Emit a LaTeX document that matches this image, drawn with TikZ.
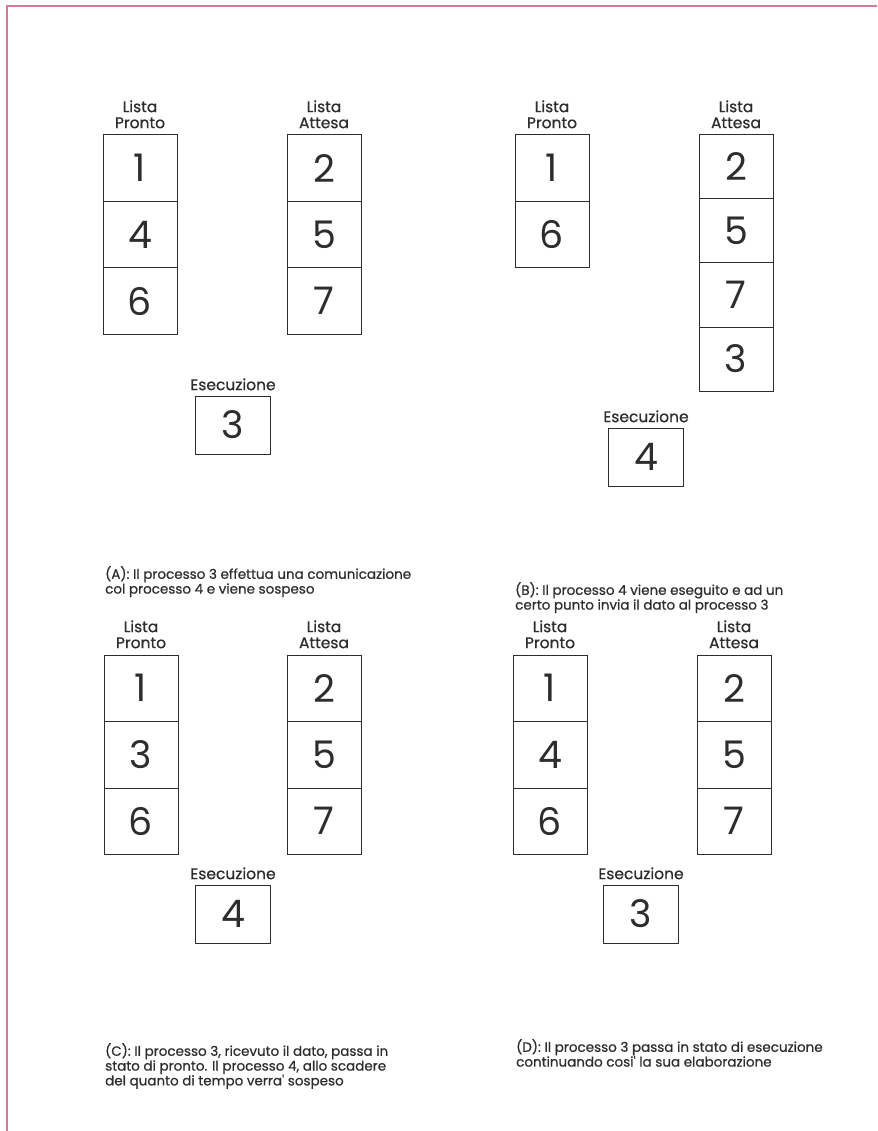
\documentclass[tikz,border=0pt]{standalone}
\usepackage{fontspec}
\setmainfont{Poppins}
\newfontfamily\testo{Poppins}[FakeBold=0.7]
\usetikzlibrary{positioning, math}
\definecolor{rosa}{RGB}{214,120,152}
\definecolor{inchiostro}{RGB}{45,45,45}

\tikzset{
  cella/.style={draw=inchiostro, line width=1pt, minimum width=74pt, minimum height=\h pt, inner sep=0pt, text=inchiostro, font=\fontsize{38}{38}\selectfont},
  esec/.style={cella, minimum width=75pt, minimum height=58pt},
  etich/.style={align=center, inner sep=0pt, text=inchiostro, font=\testo\fontsize{15.5}{16}\selectfont},
  didasc/.style={align=left, anchor=north west, inner sep=0pt, text=inchiostro, font=\testo\fontsize{13.5}{14.8}\selectfont},
}

\begin{document}
\begin{tikzpicture}[x=1pt,y=1pt]
\tikzmath{
\h=66.5;
\hb=64;
}
\useasboundingbox (0,0) rectangle (877,-1131);
\draw[rosa, line width=2pt] (7,-1131) -- (7,-6) -- (877,-6);

% (A)
\foreach \n [count=\i] in {1,4,6}
  \node[cella] (pA\i) at (140,{-135-\h*(\i-0.5)}) {\n};
\foreach \n [count=\i] in {2,5,7}
  \node[cella] (aA\i) at (324,{-135-\h*(\i-0.5)}) {\n};
\node[etich, above=6pt of pA1] (lpA) {Lista\\Pronto};
\node[etich, above=6pt of aA1] (laA) {Lista\\Attesa};
\node[esec] (eA) at (233,-425) {3};
\node[etich, above=5pt of eA] (leA) {Esecuzione};
\node[didasc] (cA) at (105,-566) {(A): Il processo 3 effettua una comunicazione\\col processo 4 e viene sospeso};

% (B)
\foreach \n [count=\i] in {1,6}
  \node[cella] (pB\i) at (552,{-135-\h*(\i-0.5)}) {\n};
\foreach \n [count=\i] in {2,5,7,3}
  \node[cella, minimum height=\hb pt] (aB\i) at (736,{-135-\hb*(\i-0.5)}) {\n};
\node[etich, above=6pt of pB1] (lpB) {Lista\\Pronto};
\node[etich, above=6pt of aB1] (laB) {Lista\\Attesa};
\node[esec] (eB) at (646,-457) {4};
\node[etich, above=5pt of eB] (leB) {Esecuzione};
\node[didasc] (cB) at (515,-582) {(B): Il processo 4 viene eseguito e ad un\\certo punto invia il dato al processo 3};

% (C)
\foreach \n [count=\i] in {1,3,6}
  \node[cella] (pC\i) at (141,{-655-\h*(\i-0.5)}) {\n};
\foreach \n [count=\i] in {2,5,7}
  \node[cella] (aC\i) at (324,{-655-\h*(\i-0.5)}) {\n};
\node[etich, above=6pt of pC1] (lpC) {Lista\\Pronto};
\node[etich, above=6pt of aC1] (laC) {Lista\\Attesa};
\node[esec] (eC) at (233,-914) {4};
\node[etich, above=5pt of eC] (leC) {Esecuzione};
\node[didasc] (cC) at (105,-1043) {(C): Il processo 3, ricevuto il dato, passa in\\stato di pronto. Il processo 4, allo scadere\\del quanto di tempo verra' sospeso};

% (D)
\foreach \n [count=\i] in {1,4,6}
  \node[cella] (pD\i) at (550,{-655-\h*(\i-0.5)}) {\n};
\foreach \n [count=\i] in {2,5,7}
  \node[cella] (aD\i) at (734,{-655-\h*(\i-0.5)}) {\n};
\node[etich, above=6pt of pD1] (lpD) {Lista\\Pronto};
\node[etich, above=6pt of aD1] (laD) {Lista\\Attesa};
\node[esec] (eD) at (641,-914) {3};
\node[etich, above=5pt of eD] (leD) {Esecuzione};
\node[didasc] (cD) at (516,-1039) {(D): Il processo 3 passa in stato di esecuzione\\continuando cosi' la sua elaborazione};

\end{tikzpicture}
\end{document}
